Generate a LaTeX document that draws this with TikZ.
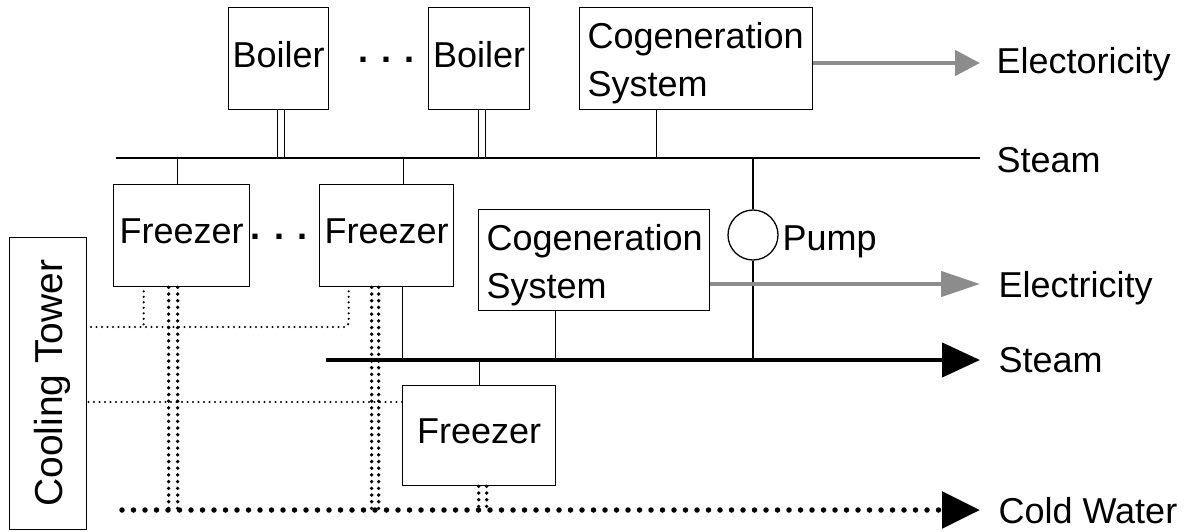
\documentclass[tikz,border=0pt]{standalone}
\usepackage{fontspec}
\setmainfont{Liberation Sans}
\usetikzlibrary{arrows.meta}
\begin{document}
\begin{tikzpicture}[x=1pt,y=-1pt,
  every node/.style={font=\fontsize{36}{48}\selectfont},
  box/.style={draw, line width=1.3pt, inner sep=0pt, anchor=north west, text depth=9pt},
  cbox/.style={draw, line width=1.3pt, inner xsep=8pt, inner ysep=0pt, anchor=north west, align=left, text height=36pt},
  ln/.style={line width=1.2pt},
  dbl/.style={double, double distance=5.5pt, line width=1.2pt},
  boldln/.style={line width=4.5pt, -{Triangle[length=38pt,width=34pt]}},
  elec/.style={line width=4.5pt, draw=black!45, fill=black!45},
  thindot/.style={line width=2.4pt, line cap=round, dash pattern=on 0pt off 5.5pt},
  coldot/.style={line width=3.8pt, line cap=round, dash pattern=on 0pt off 6.7pt},
  bigdot/.style={line width=5.5pt, line cap=round, dash pattern=on 0pt off 11.5pt},
  lbl/.style={anchor=base west},
  dotsep/.style={anchor=base, font=\fontsize{36}{48}\selectfont\bfseries}]
\useasboundingbox (0,0) rectangle (1187,531);

% boxes
\node[box, minimum width=100pt, minimum height=102pt] (b1) at (228,7) {Boiler};
\node[box, minimum width=101pt, minimum height=102pt] (b2) at (428,7) {Boiler};
\node[cbox, text width=217pt, minimum height=102pt] (c1) at (579,7) {Cogeneration\\System};
\node[box, minimum width=136pt, minimum height=102pt] (f1) at (113,184) {Freezer};
\node[box, minimum width=134pt, minimum height=102pt] (f2) at (319,184) {Freezer};
\node[cbox, text width=215pt, minimum height=101pt] (c2) at (478,209) {Cogeneration\\System};
\node[box, minimum width=153pt, minimum height=100pt] (f3) at (402,385) {Freezer};
\node[draw, circle, line width=1.3pt, minimum size=50pt, inner sep=0pt] (pump) at (753,235) {};
\node[lbl] (pumpl) at (779,250) {Pump};
\node[draw, line width=1.3pt, minimum width=77pt, minimum height=292pt, anchor=north west] (ct) at (9,237) {};
\node[rotate=90, anchor=base, font=\fontsize{39}{40}\selectfont] (ctt) at (62,383) {Cooling Tower};

% ellipses
\node[dotsep] (d1) at (386,62.5) {.\hspace{13pt}.\hspace{13pt}.};
\node[dotsep] (d2) at (279,239.5) {.\hspace{13pt}.\hspace{13pt}.};

% labels
\node[lbl] (l1) at (993,73) {Electoricity};
\node[lbl] (l2) at (993,172) {Steam};
\node[lbl] (l3) at (995,297) {Electricity};
\node[lbl] (l4) at (995,372) {Steam};
\node[lbl] (l5) at (995,523) {Cold Water};

% coordinates
\coordinate (sL) at (116,158);
\coordinate (sR) at (980,158);
\coordinate (bsL) at (326,360);
\coordinate (bsR) at (980,360);
\coordinate (cwL) at (122,510);
\coordinate (cwR) at (980,510);
\coordinate (e1) at (980,63);
\coordinate (e2) at (980,284);
\coordinate (t1) at (86,327);
\coordinate (t2) at (86,402);

% upper steam
\draw[dbl] ([xshift=2.5pt]b1.south) -- ([xshift=2.5pt]b1.south |- sL);
\draw[dbl] ([xshift=3pt]b2.south) -- ([xshift=3pt]b2.south |- sL);
\draw[ln] ([xshift=-39.5pt]c1.south) -- ([xshift=-39.5pt]c1.south |- sL);
\draw[ln] (sL) -- (sR);
\draw[ln] ([xshift=-4pt]f1.north) -- ([xshift=-4pt]f1.north |- sL);
\draw[ln] ([xshift=17pt]f2.north) -- ([xshift=17pt]f2.north |- sL);
\draw[ln] (pump.north) -- (pump.north |- sL);

% lower steam
\draw[ln] (pump.south) -- (pump.south |- bsL);
\draw[ln] ([xshift=16pt]f2.south) -- ([xshift=16pt]f2.south |- bsL);
\draw[ln] ([xshift=-38.5pt]c2.south) -- ([xshift=-38.5pt]c2.south |- bsL);
\draw[ln] (f3.north) -- (f3.north |- bsL);
\draw[boldln] (bsL) -- (bsR);

% electricity
\draw[elec, -{Triangle[length=25pt,width=25pt]}] (c1.east |- e1) -- (e1);
\draw[elec, -{Triangle[length=39pt,width=25pt]}] (c2.east |- e2) -- (e2);

% cooling water
\draw[thindot] ([xshift=-38pt,yshift=-4pt]f1.south) -- ([xshift=-38pt]f1.south |- t1);
\draw[thindot, rounded corners=4pt] ([xshift=-38pt,yshift=-4pt]f2.south) |- (t1);
\draw[thindot] (f3.west |- t2) -- (t2);
\draw[coldot] ([xshift=-13pt]f1.south) -- ([xshift=-13pt]f1.south |- cwL);
\draw[coldot] ([xshift=-4pt]f1.south) -- ([xshift=-4pt]f1.south |- cwL);
\draw[coldot] ([xshift=-15pt]f2.south) -- ([xshift=-15pt]f2.south |- cwL);
\draw[coldot] ([xshift=-8pt]f2.south) -- ([xshift=-8pt]f2.south |- cwL);
\draw[coldot] ([xshift=-0.5pt]f3.south) -- ([xshift=-0.5pt]f3.south |- cwL);
\draw[coldot] ([xshift=7.5pt]f3.south) -- ([xshift=7.5pt]f3.south |- cwL);
\draw[bigdot, -{Triangle[length=38pt,width=36pt]}] (cwL) -- (cwR);
\end{tikzpicture}
\end{document}
